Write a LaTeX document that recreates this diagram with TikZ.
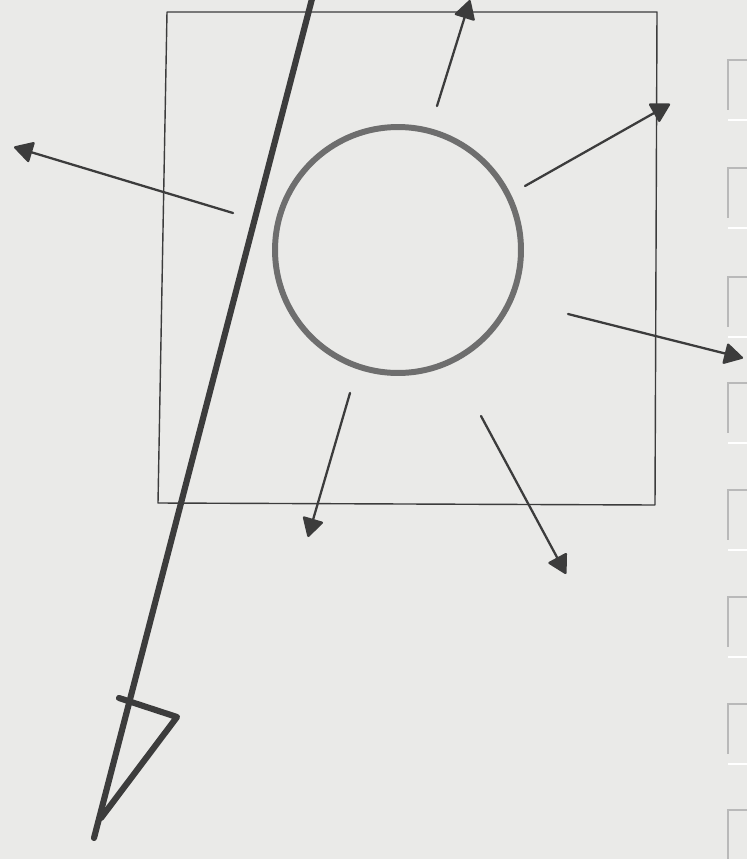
\documentclass[tikz,border=0pt]{standalone}
\usetikzlibrary{arrows.meta}
\definecolor{paper}{RGB}{234,234,232}
\definecolor{pencil}{RGB}{60,60,60}
\definecolor{ring}{RGB}{110,110,110}
\definecolor{tab}{RGB}{185,185,185}
\begin{document}
\begin{tikzpicture}[x=0.02cm,y=-0.02cm,
  frame/.style={draw=pencil,line width=0.8pt,line join=round},
  ray/.style={draw=pencil,line width=1.3pt,line cap=round,
    -{Triangle[length=0.4cm,width=0.44cm,fill=pencil,round]}},
  beam/.style={draw=pencil,line width=3.5pt,line cap=round},
  circ/.style={draw=ring,line width=3.4pt},
  tabmark/.style={draw=tab,line width=0.9pt}]
\fill[paper] (0,0) rectangle (747,859);
\useasboundingbox (0,0) rectangle (747,859);
% notebook edge tabs
\foreach \y in {60,168,277,383,490,597,704,810}{
  \draw[tabmark] (747,\y) -- (728,\y) -- (728,\y+50);
  \draw[draw=white,line width=1.2pt] (728,\y+60) -- (747,\y+60);
}
% frame
\coordinate (r1) at (167,12);
\coordinate (r2) at (657,12);
\coordinate (r3) at (655,505);
\coordinate (r4) at (158,503);
\draw[frame] (r1) -- (r2) -- (r3) -- (r4) -- cycle;
% circle
\node[circ,circle,minimum size=4.92cm,inner sep=0pt] (c) at (398,250) {};
% long beam
\coordinate (b0) at (313,-5);
\coordinate (b1) at (94,838);
\draw[beam] (b0) -- (b1);
% open arrowhead at the bottom
\coordinate (h1) at (119,698);
\coordinate (h2) at (177,717);
\coordinate (h3) at (101,818);
\draw[beam,line join=round] (h1) -- (h2) -- (h3);
% rays
\coordinate (a1s) at (233,213); \coordinate (a1e) at (14,147);
\coordinate (a2s) at (437,106); \coordinate (a2e) at (470,0);
\coordinate (a3s) at (525,186); \coordinate (a3e) at (670,104);
\coordinate (a4s) at (568,314); \coordinate (a4e) at (743,358);
\coordinate (a5s) at (350,393); \coordinate (a5e) at (308,537);
\coordinate (a6s) at (481,416); \coordinate (a6e) at (566,574);
\draw[ray] (a1s) -- (a1e);
\draw[ray] (a2s) -- (a2e);
\draw[ray] (a3s) -- (a3e);
\draw[ray] (a4s) -- (a4e);
\draw[ray] (a5s) -- (a5e);
\draw[ray] (a6s) -- (a6e);
\end{tikzpicture}
\end{document}
